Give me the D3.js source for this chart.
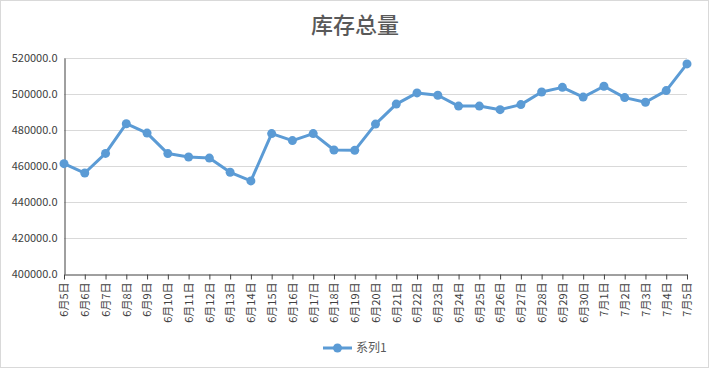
<!DOCTYPE html>
<html><head><meta charset="utf-8">
<script src="https://cdn.jsdelivr.net/npm/d3@7"></script>
<style>body{margin:0;background:#fff}svg{display:block}</style>
</head><body>
<svg id="c" width="709" height="368"></svg>
<script>
const categories = ["6月5日","6月6日","6月7日","6月8日","6月9日","6月10日","6月11日","6月12日","6月13日","6月14日","6月15日","6月16日","6月17日","6月18日","6月19日","6月20日","6月21日","6月22日","6月23日","6月24日","6月25日","6月26日","6月27日","6月28日","6月29日","6月30日","7月1日","7月2日","7月3日","7月4日","7月5日"];
const values = [461300,456100,467000,483500,478300,466900,465000,464400,456500,451700,478000,474100,478000,468900,468700,483300,494400,500600,499300,493300,493300,491300,494100,501100,503700,498300,504300,498000,495400,501900,516700];
const yTicks = [400000,420000,440000,460000,480000,500000,520000];
const title = "库存总量";
const seriesName = "系列1";

(function(){
const svg = d3.select("#c");
const W = 709, H = 368;
const font = "'Noto Sans CJK SC','Microsoft YaHei',sans-serif";
const color = "#5b9bd5";

svg.append("rect").attr("x",0.5).attr("y",0.5).attr("width",W-1).attr("height",H-1)
  .attr("fill","#fff").attr("stroke","#d9d9d9");

const pL = 64, pR = 687, pT = 58, pB = 274;
const x = d3.scalePoint().domain(categories).range([pL, pR]);
const y = d3.scaleLinear().domain([400000, 520000]).range([pB, pT]);

svg.append("g").selectAll("line").data(yTicks.filter(d=>d>400000)).join("line")
  .attr("x1", pL).attr("x2", pR).attr("y1", d=>y(d)+0.5).attr("y2", d=>y(d)+0.5)
  .attr("stroke","#d9d9d9").attr("stroke-width",1);

const ya = svg.append("g").attr("transform",`translate(${pL+0.5},0)`)
  .call(d3.axisLeft(y).tickValues(yTicks).tickFormat(d=>d3.format(".1f")(d)).tickSize(0).tickPadding(7));
ya.select(".domain").attr("stroke","#404040");
ya.selectAll("text").attr("font-family",font).attr("font-size",11).attr("fill","#404040");

const xa = svg.append("g").attr("transform",`translate(0,${pB+0.5})`)
  .call(d3.axisBottom(x).tickSize(5).tickSizeOuter(0));
xa.select(".domain").attr("stroke","#404040");
xa.selectAll(".tick line").attr("stroke","#404040");
xa.selectAll("text").attr("font-family",font).attr("font-size",11).attr("fill","#404040")
  .attr("transform","rotate(-90)").attr("text-anchor","end").attr("dy","0.35em")
  .attr("x",-8).attr("y",0);

const line = d3.line().x((d,i)=>x(categories[i])).y(d=>y(d));
svg.append("path").datum(values).attr("d",line).attr("fill","none")
  .attr("stroke",color).attr("stroke-width",3).attr("stroke-linejoin","round");
svg.append("g").selectAll("circle").data(values).join("circle")
  .attr("cx",(d,i)=>x(categories[i])).attr("cy",d=>y(d)).attr("r",4.5).attr("fill",color);

svg.append("text").attr("x",355).attr("y",33).attr("text-anchor","middle")
  .attr("font-family","'Noto Sans CJK SC',serif").attr("font-size",22).attr("font-weight",500).attr("fill","#595959").text(title);

const lg = svg.append("g");
lg.append("line").attr("x1",323).attr("x2",352).attr("y1",348).attr("y2",348).attr("stroke",color).attr("stroke-width",3);
lg.append("circle").attr("cx",337.5).attr("cy",348).attr("r",4.5).attr("fill",color);
lg.append("text").attr("x",356).attr("y",352).attr("font-family",font).attr("font-size",12).attr("fill","#595959").text(seriesName);
})();
</script>
</body></html>
